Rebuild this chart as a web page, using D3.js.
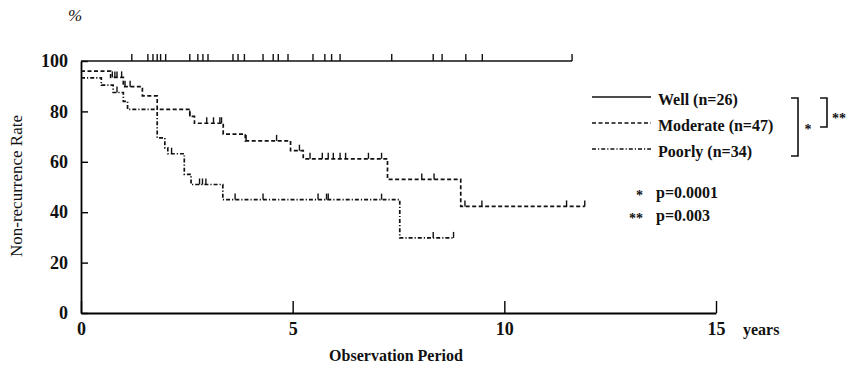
<!DOCTYPE html>
<html>
<head>
<meta charset="utf-8">
<script src="https://cdn.jsdelivr.net/npm/d3@7"></script>
<style>
  body { margin: 0; background: #fff; }
  text { font-family: "Liberation Serif", "Times New Roman", serif; fill: #111; }
</style>
</head>
<body>
<div id="chart"></div>
<script>
// step curves: time (years) at which the level starts, and the level (%)
const wellTimes = [0];
const wellRates = [100];
const wellEnd = 11.6;
const wellCensor = [1.2, 1.58, 1.7, 1.8, 1.88, 2.0, 2.57, 2.76, 2.88, 3.0, 3.59, 3.71, 3.86,
    4.3, 4.54, 4.66, 4.89, 5.48, 5.76, 5.92, 6.12, 7.34, 8.32, 8.53, 9.09, 9.48];

const modTimes = [0, 0.7, 1.0, 1.45, 1.8, 2.57, 2.68, 3.36, 3.88, 4.95, 5.25, 7.24, 8.97];
const modRates = [96, 93.5, 89.8, 86.2, 80.8, 78, 75.3, 71, 68.3, 64.4, 61.2, 53, 42.3];
const modEnd = 11.9;
const modCensor = [0.74, 0.8, 0.85, 0.96, 1.04, 1.16, 2.57, 2.97, 3.13, 3.28, 3.32, 3.9, 4.62,
    5.16, 5.41, 5.7, 5.84, 5.96, 6.12, 6.25, 6.79, 7.1, 8.05, 8.34, 9.07, 9.47, 11.47];

const poorTimes = [0, 0.48, 0.76, 1.0, 1.1, 1.8, 1.98, 2.05, 2.44, 2.6, 3.35, 7.53];
const poorRates = [93.3, 90.4, 87.5, 84, 80.8, 69.5, 65.5, 63.2, 55, 51, 45, 29.8];
const poorEnd = 8.8;
const poorCensor = [0.85, 2.14, 2.8, 2.87, 2.95, 3.64, 4.3, 5.6, 5.8, 5.84, 7.1, 8.32];

const groupNames = ['Well (n=26)', 'Moderate (n=47)', 'Poorly (n=34)'];
const xTicks = [0, 5, 10, 15];
const yTicks = [0, 20, 40, 60, 80, 100];
const pLabels = ['p=0.0001', 'p=0.003'];

const width = 853;
const height = 378;

const svg = d3.select('#chart')
    .append('svg')
    .attr('width', width)
    .attr('height', height);

svg.append('rect')
    .attr('width', width)
    .attr('height', height)
    .attr('fill', '#fff');

const x = d3.scaleLinear().domain([0, 15]).range([81, 716]);
const y = d3.scaleLinear().domain([0, 100]).range([313, 61]);

// axes
const xAxis = d3.axisBottom(x)
    .tickValues(xTicks)
    .tickSize(-12)
    .tickSizeOuter(0)
    .tickPadding(9)
    .tickFormat(d3.format('d'));

svg.append('g')
    .attr('transform', `translate(0,${y(0)})`)
    .call(xAxis)
    .call(g => g.select('.domain').attr('stroke-width', 1.8))
    .call(g => g.selectAll('.tick line').attr('stroke-width', 1.4))
    .call(g => g.selectAll('.tick text')
        .style('font-size', '18px').style('font-weight', 'bold'));

const yAxis = d3.axisLeft(y)
    .tickValues(yTicks)
    .tickSize(-7)
    .tickSizeOuter(0)
    .tickPadding(13);

svg.append('g')
    .attr('transform', `translate(${x(0)},0)`)
    .call(yAxis)
    .call(g => g.select('.domain').attr('stroke-width', 1.8))
    .call(g => g.selectAll('.tick line').attr('stroke-width', 1.4))
    .call(g => g.selectAll('.tick text')
        .style('font-size', '18px').style('font-weight', 'bold'));

// curves
const dashes = [null, '4,2.5', '4,2,1.2,2'];
const groups = [
    { times: wellTimes, rates: wellRates, end: wellEnd, censor: wellCensor, tick: 7 },
    { times: modTimes, rates: modRates, end: modEnd, censor: modCensor, tick: 6 },
    { times: poorTimes, rates: poorRates, end: poorEnd, censor: poorCensor, tick: 6 }
];

const line = d3.line()
    .x(d => x(d[0]))
    .y(d => y(d[1]))
    .curve(d3.curveStepAfter);

groups.forEach((grp, i) => {
    const pts = grp.times.map((t, k) => [t, grp.rates[k]]);
    pts.push([grp.end, grp.rates[grp.rates.length - 1]]);

    svg.append('path')
        .datum(pts)
        .attr('d', line)
        .attr('fill', 'none')
        .attr('stroke', '#111')
        .attr('stroke-width', 1.7)
        .attr('stroke-dasharray', dashes[i]);

    const levelAt = t => {
        let v = grp.rates[0];
        grp.times.forEach((tt, k) => { if (tt <= t) v = grp.rates[k]; });
        return v;
    };

    svg.append('g')
        .selectAll('line')
        .data(grp.censor.concat([grp.end]))
        .enter()
        .append('line')
        .attr('x1', d => x(d))
        .attr('x2', d => x(d))
        .attr('y1', d => y(levelAt(d)))
        .attr('y2', d => y(levelAt(d)) - grp.tick)
        .attr('stroke', '#111')
        .attr('stroke-width', 1.4);
});

// axis titles
svg.append('text')
    .attr('x', 75).attr('y', 21)
    .attr('text-anchor', 'middle')
    .style('font-size', '17px').style('font-style', 'italic')
    .text('%');

svg.append('text')
    .attr('transform', 'translate(22,186) rotate(-90)')
    .attr('text-anchor', 'middle')
    .style('font-size', '17px')
    .text('Non-recurrence Rate');

svg.append('text')
    .attr('x', 396).attr('y', 361)
    .attr('text-anchor', 'middle')
    .style('font-size', '16px').style('font-weight', 'bold')
    .text('Observation Period');

svg.append('text')
    .attr('x', 743).attr('y', 335)
    .style('font-size', '16px').style('font-weight', 'bold')
    .text('years');

// legend
const legendY = [100, 126, 152];
groupNames.forEach((name, i) => {
    svg.append('line')
        .attr('x1', 592).attr('x2', 651)
        .attr('y1', legendY[i] - 3).attr('y2', legendY[i] - 3)
        .attr('stroke', '#111')
        .attr('stroke-width', 1.4)
        .attr('stroke-dasharray', dashes[i]);
    svg.append('text')
        .attr('x', 658).attr('y', legendY[i] + 5)
        .style('font-size', '16px').style('font-weight', 'bold')
        .text(name);
});

// significance brackets
svg.append('path')
    .attr('d', 'M791,98H798V156H791')
    .attr('fill', 'none').attr('stroke', '#111').attr('stroke-width', 1.6);
svg.append('text')
    .attr('x', 808).attr('y', 134)
    .attr('text-anchor', 'middle')
    .style('font-size', '14px').style('font-weight', 'bold')
    .text('*');
svg.append('path')
    .attr('d', 'M820,98H827V127H820')
    .attr('fill', 'none').attr('stroke', '#111').attr('stroke-width', 1.6);
svg.append('text')
    .attr('x', 832).attr('y', 123)
    .style('font-size', '14px').style('font-weight', 'bold')
    .text('**');

// p values
const pMarks = ['*', '**'];
pLabels.forEach((p, i) => {
    svg.append('text')
        .attr('x', 643).attr('y', 200 + i * 23)
        .attr('text-anchor', 'end')
        .style('font-size', '14px').style('font-weight', 'bold')
        .text(pMarks[i]);
    svg.append('text')
        .attr('x', 656).attr('y', 198 + i * 23)
        .style('font-size', '16px').style('font-weight', 'bold')
        .text(p);
});
</script>
</body>
</html>
